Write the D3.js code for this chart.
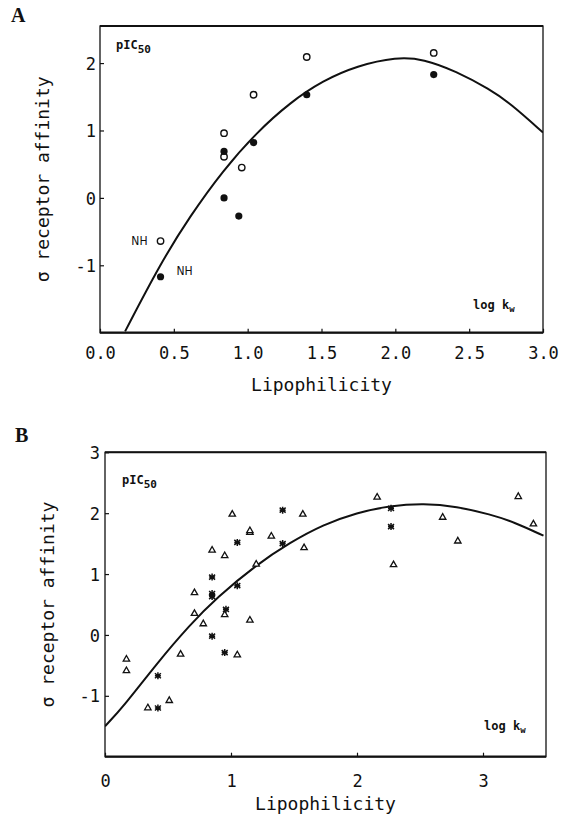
<!DOCTYPE html>
<html><head><meta charset="utf-8">
<script src="https://cdn.jsdelivr.net/npm/d3@7"></script>
<style>
body{margin:0;background:#fff;}
svg text{font-family:"DejaVu Sans Mono",monospace;fill:#111;}
</style></head>
<body><svg id="c" width="562" height="817"></svg>
<script>
// ---- Panel A data ----
const aXTicks = [0, 0.5, 1.0, 1.5, 2.0, 2.5, 3.0];
const aYTicks = [-1, 0, 1, 2];
const aOpenX = [0.84, 0.84, 0.96, 1.04, 1.40, 2.26, 0.41];
const aOpenY = [0.96, 0.61, 0.45, 1.53, 2.09, 2.15, -0.64];
const aFilledX = [0.84, 1.04, 1.40, 2.26, 0.84, 0.94, 0.41];
const aFilledY = [0.69, 0.82, 1.53, 1.83, 0.00, -0.27, -1.17];
const aCurveX = [0.17, 0.41, 0.61, 0.83, 1.06, 1.29, 1.51, 1.74, 2.01, 2.19, 2.41, 2.64, 2.78, 3.0];
const aCurveY = [-1.98, -0.97, -0.27, 0.40, 0.97, 1.42, 1.74, 1.96, 2.09, 2.06, 1.88, 1.61, 1.40, 0.97];

// ---- Panel B data ----
const bXTicks = [0, 1, 2, 3];
const bYTicks = [-1, 0, 1, 2, 3];
const bTriX = [1.01, 0.85, 1.15, 1.15, 1.32, 0.95, 1.20, 0.71, 1.57, 1.58, 2.16, 2.29, 2.68, 2.80, 3.28, 3.40,
               0.71, 0.78, 0.95, 1.15, 0.60, 1.05, 0.17, 0.17, 0.51, 0.34];
const bTriY = [1.99, 1.40, 1.69, 1.72, 1.63, 1.31, 1.17, 0.70, 1.99, 1.44, 2.27, 1.16, 1.94, 1.55, 2.28, 1.83,
               0.36, 0.19, 0.34, 0.25, -0.31, -0.32, -0.39, -0.58, -1.07, -1.19];
const bAstX = [1.41, 1.05, 1.41, 0.85, 1.05, 0.85, 0.85, 2.27, 2.27, 0.96, 0.85, 0.95, 0.42, 0.42];
const bAstY = [2.05, 1.52, 1.50, 0.95, 0.81, 0.68, 0.63, 2.08, 1.78, 0.42, -0.02, -0.29, -0.67, -1.20];
const bCurveX = [0, 0.145, 0.41, 0.675, 0.886, 1.20, 1.47, 1.73, 2.0, 2.26, 2.53, 2.79, 3.06, 3.25, 3.48];
const bCurveY = [-1.50, -1.18, -0.47, 0.17, 0.61, 1.15, 1.52, 1.81, 2.01, 2.12, 2.16, 2.11, 1.98, 1.85, 1.63];

const svg = d3.select("#c");

function panel(cfg) {
  const x = d3.scaleLinear().domain(cfg.xDom).range([cfg.x0, cfg.x1]);
  const y = d3.scaleLinear().domain(cfg.yDom).range([cfg.y1, cfg.y0]);
  const g = svg.append("g");
  const clipId = "clip" + cfg.id;
  svg.append("clipPath").attr("id", clipId).append("rect")
    .attr("x", cfg.x0).attr("y", cfg.y0).attr("width", cfg.x1 - cfg.x0).attr("height", cfg.y1 - cfg.y0);

  // axes
  const xa = g.append("g").attr("transform", `translate(0,${cfg.y1})`)
    .call(d3.axisBottom(x).tickValues(cfg.xTicks).tickFormat(cfg.xFmt).tickSizeInner(-4).tickSizeOuter(0));
  xa.select(".domain").remove();
  xa.selectAll(".tick line").attr("stroke", "#111").attr("stroke-width", 1.2);
  xa.selectAll(".tick text").attr("y", cfg.xLabY).attr("dy", 0).attr("font-size", 17)
    .style("font-family", '"DejaVu Sans Mono",monospace').attr("fill", "#111");

  const ya = g.append("g").attr("transform", `translate(${cfg.x0},0)`)
    .call(d3.axisLeft(y).tickValues(cfg.yTicks).tickSizeInner(-4).tickSizeOuter(0));
  ya.select(".domain").remove();
  ya.selectAll(".tick line").attr("stroke", "#111").attr("stroke-width", 1.2);
  ya.selectAll(".tick text").attr("x", cfg.yLabX).attr("dy", "0.36em").attr("font-size", 17)
    .style("font-family", '"DejaVu Sans Mono",monospace').attr("fill", "#111")
    .text(d => d < 0 ? "-" + Math.abs(d) : d);

  // frame
  g.append("rect").attr("x", cfg.x0).attr("y", cfg.y0).attr("width", cfg.x1 - cfg.x0)
    .attr("height", cfg.y1 - cfg.y0).attr("fill", "none").attr("stroke", "#111").attr("stroke-width", 1.3);
  g.append("line").attr("x1", cfg.x0).attr("x2", cfg.x1).attr("y1", cfg.y1).attr("y2", cfg.y1)
    .attr("stroke", "#111").attr("stroke-width", 2.2);
  g.append("line").attr("x1", cfg.x0).attr("x2", cfg.x1).attr("y1", cfg.y0).attr("y2", cfg.y0)
    .attr("stroke", "#111").attr("stroke-width", 2);

  // curve
  const pts = cfg.cx.map((v, i) => [v, cfg.cy[i]]);
  g.append("path").datum(pts).attr("clip-path", `url(#${clipId})`)
    .attr("d", d3.line().x(d => x(d[0])).y(d => y(d[1])).curve(d3.curveBasis))
    .attr("fill", "none").attr("stroke", "#111").attr("stroke-width", 2);

  // labels
  g.append("text").attr("x", (cfg.x0 + cfg.x1) / 2).attr("y", cfg.titleY).attr("text-anchor", "middle")
    .attr("font-size", 18).text("Lipophilicity");
  g.append("text").attr("transform", `translate(${cfg.yTitleX},${(cfg.y0 + cfg.y1) / 2}) rotate(-90)`)
    .attr("text-anchor", "middle").attr("dy", "0.35em").attr("font-size", 18).text("σ receptor affinity");

  const p = g.append("text").attr("x", cfg.x0 + cfg.pIcDx).attr("y", cfg.y0 + cfg.pIcDy)
    .attr("font-size", 12).attr("font-weight", "bold");
  p.append("tspan").text("pIC");
  p.append("tspan").attr("dy", 4).attr("font-size", 11).text("50");

  const lk = g.append("text").attr("x", cfg.x1 - cfg.logDx).attr("y", cfg.y1 - cfg.logDy)
    .attr("font-size", 12).attr("font-weight", "bold");
  lk.append("tspan").text("log k");
  lk.append("tspan").attr("dy", 3).attr("font-size", 9).text("w");

  svg.append("text").attr("x", cfg.letterX).attr("y", cfg.letterY).text(cfg.letter)
    .style("font-family", '"Liberation Serif","DejaVu Serif",serif').attr("font-weight", "bold")
    .attr("font-size", 20);
  return {g, x, y};
}

// Panel A
const A = panel({id: "A", xDom: [0, 3], yDom: [-2, 2.55], x0: 100, x1: 543, y0: 26, y1: 332.7,
  xTicks: aXTicks, yTicks: aYTicks, xFmt: d3.format(".1f"), xLabY: 26, yLabX: -4,
  titleY: 391, yTitleX: 43, pIcDx: 16, pIcDy: 23, logDx: 70, logDy: 24,
  cx: aCurveX, cy: aCurveY, letter: "A", letterX: 11, letterY: 22});

A.g.selectAll(".openA").data(aOpenX.map((v, i) => [v, aOpenY[i]])).join("circle")
  .attr("cx", d => A.x(d[0])).attr("cy", d => A.y(d[1])).attr("r", 3.2)
  .attr("fill", "#fff").attr("stroke", "#111").attr("stroke-width", 1.4);
A.g.selectAll(".fillA").data(aFilledX.map((v, i) => [v, aFilledY[i]])).join("circle")
  .attr("cx", d => A.x(d[0])).attr("cy", d => A.y(d[1])).attr("r", 3.6).attr("fill", "#111");
A.g.append("text").attr("x", A.x(aOpenX[6]) - 13).attr("y", A.y(aOpenY[6])).attr("dy", "0.35em")
  .attr("text-anchor", "end").attr("font-size", 12).style("font-family", '"Liberation Sans Narrow","DejaVu Sans Condensed",sans-serif').text("NH");
A.g.append("text").attr("x", A.x(aFilledX[6]) + 16).attr("y", A.y(aFilledY[6]) - 6).attr("dy", "0.35em")
  .attr("font-size", 12).style("font-family", '"Liberation Sans Narrow","DejaVu Sans Condensed",sans-serif').text("NH");

// Panel B
const B = panel({id: "B", xDom: [0, 3.5], yDom: [-2, 3], x0: 105, x1: 546, y0: 452.3, y1: 756.7,
  xTicks: bXTicks, yTicks: bYTicks, xFmt: d3.format("d"), xLabY: 30, yLabX: -5,
  titleY: 810, yTitleX: 48, pIcDx: 17, pIcDy: 32, logDx: 62, logDy: 27,
  cx: bCurveX, cy: bCurveY, letter: "B", letterX: 15, letterY: 442});

B.g.selectAll(".tri").data(bTriX.map((v, i) => [v, bTriY[i]])).join("path")
  .attr("transform", d => `translate(${B.x(d[0])},${B.y(d[1])})`)
  .attr("d", "M0,-3.2L3.2,2.4L-3.2,2.4Z")
  .attr("fill", "#fff").attr("stroke", "#111").attr("stroke-width", 1.3);
B.g.selectAll(".ast").data(bAstX.map((v, i) => [v, bAstY[i]])).join("path")
  .attr("transform", d => `translate(${B.x(d[0])},${B.y(d[1])})`)
  .attr("d", "M0,-3.5L0,3.5M-3,-2.5L3,2.5M-3,2.5L3,-2.5M-3,0L3,0")
  .attr("fill", "none").attr("stroke", "#111").attr("stroke-width", 1.5);
</script></body></html>
